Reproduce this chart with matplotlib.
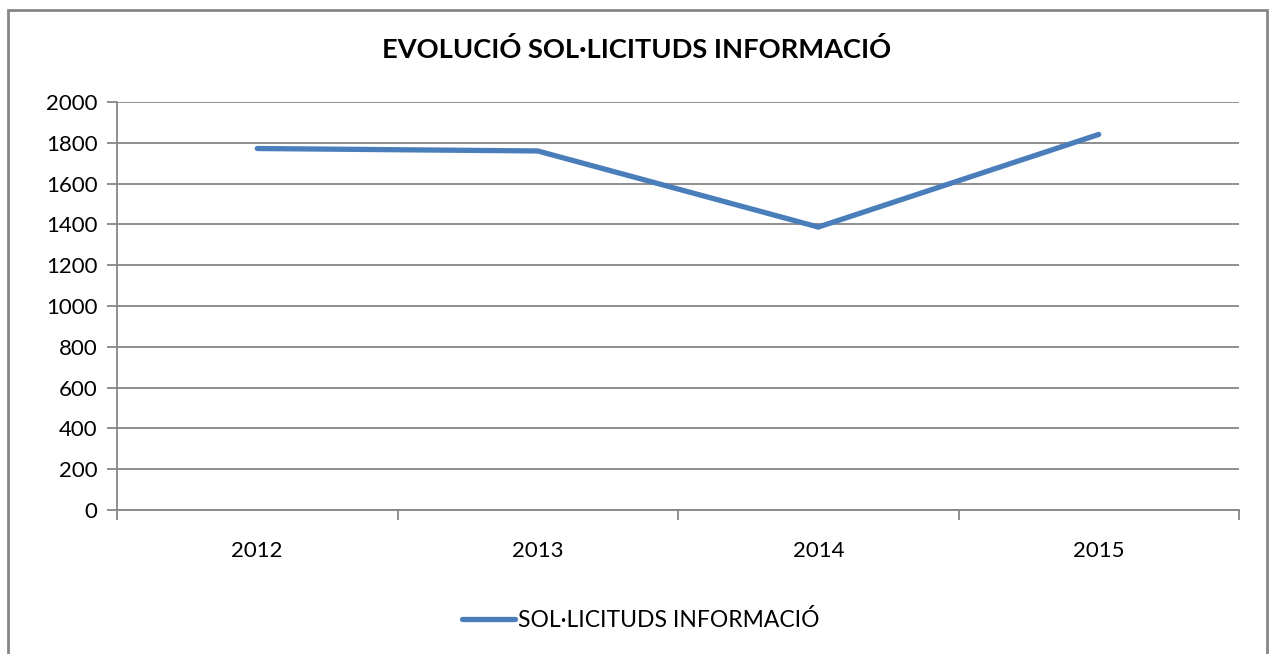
import matplotlib
matplotlib.use("Agg")
import matplotlib.pyplot as plt
from matplotlib.patches import Rectangle

anys = ["2012", "2013", "2014", "2015"]
sollicituds = [1772, 1760, 1387, 1841]
titol = "EVOLUCIÓ SOL·LICITUDS INFORMACIÓ"
llegenda = "SOL·LICITUDS INFORMACIÓ"

plt.rcParams['font.family'] = ['Lato', 'DejaVu Sans']
gris = "#868686"

fig = plt.figure(figsize=(12.7, 6.54), dpi=100)
ax = fig.add_axes([117/1270, 1 - 510/654, (1239 - 117)/1270, (510 - 102)/654])

x = list(range(len(anys)))
ax.plot(x, sollicituds, '-', color="#4A7EBB", linewidth=3.8,
        solid_capstyle='round', solid_joinstyle='miter', label=llegenda, zorder=3)

ax.set_xlim(-0.5, len(anys) - 0.5)
ax.set_ylim(0, 2000)
ax.set_yticks(range(0, 2001, 200))
ax.yaxis.grid(True, color=gris, linewidth=1.3)
ax.set_axisbelow(True)

# ticks entre categories, etiquetes al centre
ax.set_xticks([i - 0.5 for i in range(len(anys) + 1)])
ax.set_xticklabels([])
ax.set_xticks(x, minor=True)
ax.set_xticklabels(anys, minor=True)
ax.tick_params(axis='x', which='minor', length=0, pad=22, labelsize=16)
ax.tick_params(axis='x', which='major', length=7, width=1.3, color=gris, direction='out')
ax.tick_params(axis='y', length=7, width=1.3, color=gris, direction='out', labelsize=16, pad=7)

for s in ['top', 'right']:
    ax.spines[s].set_visible(False)
for s in ['left', 'bottom']:
    ax.spines[s].set_color(gris)
    ax.spines[s].set_linewidth(1.3)

fig.text(637/1270, 1 - 50/654, titol, ha='center', va='center',
         fontsize=19.6, fontweight='bold')

ax.legend(loc='center', bbox_to_anchor=(641/1270, 1 - 620/654), bbox_transform=fig.transFigure,
          frameon=False, fontsize=16.5, handlelength=2.3, handletextpad=0.15)

fig.patches.append(Rectangle((8/1270, -0.05), (1267 - 8)/1270, 1 - 10/654 + 0.05,
                             transform=fig.transFigure, fill=False,
                             edgecolor=gris, linewidth=2))

fig.savefig("out.png", dpi=100)
